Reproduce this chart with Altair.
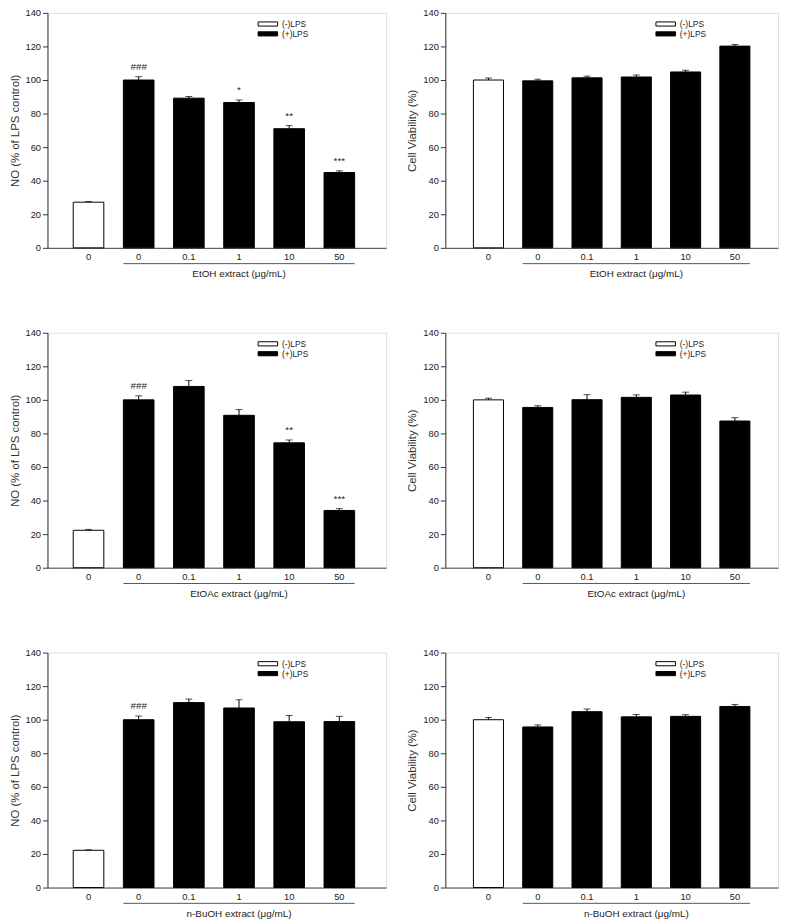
import altair as alt
import pandas as pd

cats = ["ctrl", "0", "0.1", "1", "10", "50"]
groups = ["(-)LPS", "(+)LPS", "(+)LPS", "(+)LPS", "(+)LPS", "(+)LPS"]

no_etoh = [27.2, 100.0, 89.2, 86.6, 71.0, 44.9]
no_etoh_err = [0.4, 2.0, 1.0, 1.5, 1.8, 1.0]
no_etoh_sig = ["", "###", "", "*", "**", "***"]

cv_etoh = [100.0, 99.5, 101.3, 101.8, 104.8, 120.2]
cv_etoh_err = [1.2, 1.0, 1.0, 1.2, 1.0, 1.0]

no_etoac = [22.3, 100.0, 108.0, 90.8, 74.4, 34.1]
no_etoac_err = [0.5, 2.4, 3.5, 3.4, 1.7, 1.1]
no_etoac_sig = ["", "###", "", "", "**", "***"]

cv_etoac = [100.0, 95.5, 100.1, 101.5, 102.9, 87.4]
cv_etoac_err = [1.0, 1.0, 3.0, 1.5, 1.7, 2.0]

no_buoh = [22.2, 100.0, 110.2, 107.0, 98.8, 98.9]
no_buoh_err = [0.3, 2.2, 2.1, 4.9, 3.7, 3.1]
no_buoh_sig = ["", "###", "", "", "", ""]

cv_buoh = [100.0, 95.7, 104.8, 101.7, 102.0, 107.9]
cv_buoh_err = [1.3, 1.2, 1.6, 1.4, 1.0, 1.2]

y_ticks = [0, 20, 40, 60, 80, 100, 120, 140]

FONT = "Liberation Sans"
H = 238


def panel(values, errs, sigs, ytitle, xtitle, width, align, legx):
    df = pd.DataFrame({
        "cat": cats,
        "grp": groups,
        "value": values,
        "top": [v + e for v, e in zip(values, errs)],
        "sig": sigs if sigs else [""] * len(cats),
    })
    xscale = alt.Scale(domain=cats, paddingInner=0.39, paddingOuter=0.57, align=align)
    xaxis = alt.Axis(title=None, ticks=False, labelAngle=0,
                     labelExpr="datum.value == 'ctrl' ? '0' : datum.value",
                     labelFontSize=9.5, labelPadding=4, domainColor="#444",
                     labelColor="#222", labelFont=FONT)
    yscale = alt.Scale(domain=[0, 140], nice=False)
    yaxis = alt.Axis(title=ytitle, values=y_ticks, grid=False,
                     tickSize=5, tickColor="#333", domainColor="#333",
                     labelFontSize=9.5, labelPadding=2, labelColor="#222",
                     titleFontSize=11.5, titleFontWeight="normal", titleColor="#333",
                     titlePadding=5, labelFont=FONT, titleFont=FONT)

    def X(field="cat"):
        return alt.X(f"{field}:N", scale=xscale, sort=cats, axis=xaxis)

    def Y(field):
        return alt.Y(f"{field}:Q", scale=yscale, axis=yaxis)

    base = alt.Chart(df)
    bars = base.mark_bar(stroke="black", strokeWidth=1).encode(
        x=X(), y=Y("value"),
        fill=alt.Fill("grp:N",
                      scale=alt.Scale(domain=["(-)LPS", "(+)LPS"], range=["white", "black"]),
                      legend=alt.Legend(title=None, orient="none", legendX=legx, legendY=7,
                                        symbolType="M-3.3,-0.7H3.3V0.7H-3.3Z", symbolSize=36,
                                        symbolStrokeColor="black", symbolStrokeWidth=1,
                                        labelFontSize=8.5, labelFont=FONT, labelColor="#222",
                                        labelOffset=10, rowPadding=1)),
    )
    err = base.mark_rule(color="black", strokeWidth=1).encode(
        x=X(), y=Y("value"), y2="top:Q")
    cap = base.mark_tick(color="black", thickness=1, size=7).encode(
        x=X(), y=Y("top"))
    sig = base.mark_text(baseline="bottom", dy=-5, fontSize=10, font=FONT, color="#222").encode(
        x=X(), y=Y("top"), text="sig:N")
    line_df = pd.DataFrame({"a": ["0"], "b": ["50"], "t": [xtitle], "c": ["1"]})
    under = alt.Chart(line_df).mark_rule(color="#555", strokeWidth=1).encode(
        x=alt.X("a:N", scale=xscale, sort=cats, axis=xaxis, bandPosition=0),
        x2=alt.X2("b:N", bandPosition=1),
        y=alt.value(H + 16))
    xt = alt.Chart(line_df).mark_text(fontSize=10, font=FONT, color="#222", baseline="middle").encode(
        x=alt.X("c:N", scale=xscale, sort=cats, axis=xaxis), y=alt.value(H + 27), text="t:N")
    return alt.layer(bars, err, cap, sig, under, xt).properties(width=width, height=H)


NO_T = "NO (% of LPS control)"
CV_T = "Cell Viability (%)"
rows = [
    (no_etoh, no_etoh_err, no_etoh_sig, cv_etoh, cv_etoh_err, "EtOH extract  (μg/mL)", "EtOH extract (μg/mL)"),
    (no_etoac, no_etoac_err, no_etoac_sig, cv_etoac, cv_etoac_err, "EtOAc extract (μg/mL)", "EtOAc extract (μg/mL)"),
    (no_buoh, no_buoh_err, no_buoh_sig, cv_buoh, cv_buoh_err, "n-BuOH extract (μg/mL)", "n-BuOH extract (μg/mL)"),
]
hrows = []
for nv, ne, ns, cv, ce, xl, xr in rows:
    left = panel(nv, ne, ns, NO_T, xl, 343, 0.45, 219)
    right = panel(cv, ce, None, CV_T, xr, 337, 0.5, 219)
    hrows.append(alt.hconcat(left, right, spacing=19)
                 .resolve_scale(fill="independent").resolve_legend(fill="independent"))

chart = alt.vconcat(*hrows, spacing=47).resolve_scale(fill="independent").resolve_legend(
    fill="independent").properties(
    padding={"left": 0, "top": -7, "right": 0, "bottom": 0}).configure_view(stroke=None).configure(
    font=FONT, background="white")

chart.save("out.html", embed_options={"renderer": "svg", "actions": False})
